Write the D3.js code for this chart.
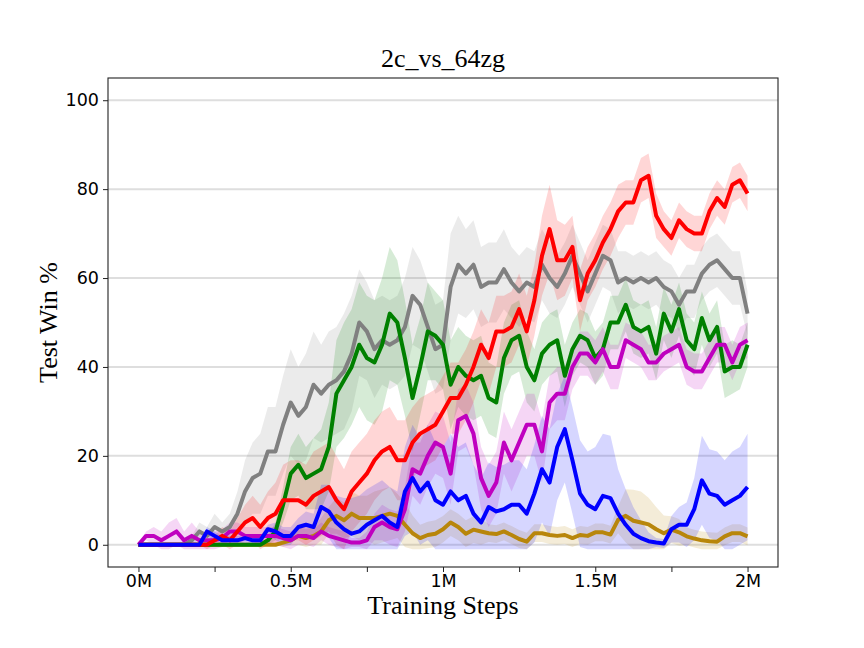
<!DOCTYPE html>
<html>
<head>
<meta charset="utf-8">
<script src="https://cdn.jsdelivr.net/npm/d3@7/dist/d3.min.js"></script>
<style>
html,body{margin:0;padding:0;background:#fff;}
</style>
</head>
<body>
<svg id="chart" width="864" height="648"></svg>
<script>
// ---- data ----
const title = "2c_vs_64zg";
const xLabel = "Training Steps";
const yLabel = "Test Win %";
const xTickValues = [0, 0.25, 0.5, 0.75, 1, 1.25, 1.5, 1.75, 2];
const xTickLabels = ["0M", "", "0.5M", "", "1M", "", "1.5M", "", "2M"];
const yTickValues = [0, 20, 40, 60, 80, 100];
const steps = d3.range(81).map(i => i * 0.025); // millions of steps

const grayMean = [0,0,0,0,0,0,0,1,3,2, 4,3,4,7,12,15,16,21,21,27, 32,29,31,36,34,36,37,39,43,50, 48,44,46,45,46,49,56,54,49,44, 45,58,63,61,63,58,59,59,62,59, 57,59,58,63,60,58,61,65,61,57, 61,65,64,59,60,59,60,59,60,58, 57,54,57,57,61,63,64,62,60,60,52];
const graySpread = [0,0,0,0,0,0,0,1,2,2, 3,2,3,5,7,8,9,10,10,11, 12,11,12,12,11,12,12,13,13,12, 11,11,10,10,10,11,11,10,10,10, 10,12,11,10,10,9,9,9,9,8, 8,8,8,8,8,7,7,7,7,7, 7,7,7,7,6,6,6,6,6,6, 6,6,6,6,6,6,6,6,6,6,5];

const redMean = [0,0,0,0,0,0,0,0,0,0, 1,2,1,3,5,6,4,6,7,10, 10,10,9,11,12,13,10,8,12,14, 16,19,21,22,19,19,23,25,26,27, 30,33,33,36,40,45,42,48,48,49, 53,48,55,65,71,64,64,67,55,61, 64,68,71,75,77,77,82,83,74,71, 69,73,71,70,70,75,78,76,81,82,79];
const redSpread = [0,0,0,0,0,0,0,0,0,1, 1,2,2,3,4,5,5,6,7,8, 9,9,9,10,10,10,10,9,9,9, 9,9,9,9,9,9,8,8,8,8, 8,8,8,8,8,8,8,8,8,8, 8,8,8,9,10,9,8,7,7,6, 6,6,6,6,5,5,5,5,5,4, 4,4,4,4,4,4,4,4,4,4,4];

const greenMean = [0,0,0,0,0,0,0,0,0,0, 0,0,0,0,0,0,0,1,3,9, 16,18,15,16,17,22,34,37,40,45, 42,41,45,52,50,42,33,40,48,47, 45,36,40,38,37,38,33,32,42,46, 47,40,37,43,45,46,38,44,47,46, 42,44,50,50,54,49,48,49,43,52, 48,53,46,44,51,46,49,39,40,40,45];
const greenSpread = [0,0,0,0,0,0,0,0,0,0, 0,0,0,0,0,0,0,1,2,4, 6,7,7,8,9,10,12,13,13,14, 14,14,15,15,14,13,12,11,11,10, 10,10,9,9,9,9,8,8,8,8, 8,8,7,7,7,7,7,6,6,6, 6,6,6,6,6,6,6,6,6,6, 6,6,6,6,6,6,6,6,6,5,5];

const magentaMean = [0,2,2,1,2,3,1,2,1,1, 1,1.5,3,3,2,2,2,2,2,1.5, 1,2,2,1.5,3,2,1.5,1,0.5,0.5, 1,4,5,4,3.5,8,17,16,20,23, 22,16,28,29,25,15,11,14,23,19, 23,27,27,21,32,34,34,40,43,43, 41,44,40,40,46,45,44,41,41,43, 44,45,40,39,39,42,45,45,41,45,46];
const magentaSpread = [0,1,2,2,3,3,2,3,2,2, 2,2,2,2,2,2,2,2,2,2, 2,2,2,2,2,2,2,2,1,1, 2,3,4,4,4,5,6,7,7,7, 7,7,7,7,7,7,7,7,7,7, 7,7,7,7,6,6,6,5,5,5, 5,5,5,5,4,4,4,4,4,4, 4,4,4,4,4,4,4,4,4,4,4];

const blueMean = [0,0,0,0,0,0,0,0,0,3, 2,1,1,1,1.5,1,1,3.5,3,2, 2,4,4.5,4,8.5,7.5,5,3.5,2.5,3, 4.5,5.5,6.5,5,4,12,15,12,14,10, 9,12,10,11,7,5,8.5,7.5,8,9, 9,7,11.5,17,14,22,26,19,11.5,9, 8,11,10.5,7,4.5,2.5,1.5,0.8,0.5,0.3, 3.5,4.5,4.5,8,14.5,11.5,11,9,10,11,13];
const blueSpread = [0,0,0,0,0,0,0,0,0,1, 1,1,1,1,1,1,1,1,2,2, 2,2,3,3,5,6,6,7,8,8, 8,8,8,8,8,10,12,12,13,13, 13,13,12,12,11,10,10,10,10,10, 10,10,11,12,12,12,12,12,12,12, 14,14,14,10,8,6,4,2,1,1, 3,4,5,7,10,10,10,10,11,11,12];

const goldMean = [0,0,0,0,0,0,0,0,0,0, 0,0,0,0,0,0,0,0,0,0.5, 1,2,1.5,2,3,5.5,6.5,5.5,7,6, 6,6,6.5,7,6.5,4.5,2.6,1.5,2.2,2.5, 3.5,5,4,2.5,3.4,3,2.6,2.4,3,2.2, 1.3,0.7,2.6,2.6,2.2,2,2.2,1.5,2.2,2, 2.8,2.8,2.3,5.6,6.5,5.4,5,4.6,3.5,2.6, 3.4,2.8,1.9,1.4,1,0.8,0.7,1.9,2.6,2.6,1.9];
const goldSpread = [0,0,0,0,0,0,0,0,0,0, 0,0,0,0,0,0,0,0,0,1, 1,2,2,2,3,3,4,4,5,5, 5,6,6,6,5,5,4,3,3,3, 3,3,3,3,3,3,2,2,2,2, 2,2,2,2,2,2,2,2,2,2, 2,2,2,3,6,7,7,6,5,4, 3,3,2,2,2,2,2,2,2,2,2];

const seriesColors = {
  gold: "#b8860b", gray: "#808080", green: "#008000",
  magenta: "#bf00bf", red: "#ff0000", blue: "#0000ff"
};

// ---- drawing ----
const svg = d3.select("#chart");
const margin = {left: 108, right: 864 - 778, top: 78, bottom: 648 - 567};
const W = 864, H = 648;

const x = d3.scaleLinear().domain([-0.1, 2.1]).range([margin.left, W - margin.right]);
const y = d3.scaleLinear().domain([-5, 105]).range([H - margin.bottom, margin.top]);

// gridlines
svg.append("g").selectAll("line").data(yTickValues).join("line")
  .attr("x1", x.range()[0]).attr("x2", x.range()[1])
  .attr("y1", d => y(d)).attr("y2", d => y(d))
  .attr("stroke", "#dedede").attr("stroke-width", 2);

const series = [
  {name: "gold", mean: goldMean, spread: goldSpread},
  {name: "gray", mean: grayMean, spread: graySpread},
  {name: "green", mean: greenMean, spread: greenSpread},
  {name: "magenta", mean: magentaMean, spread: magentaSpread},
  {name: "red", mean: redMean, spread: redSpread},
  {name: "blue", mean: blueMean, spread: blueSpread}
];

svg.append("clipPath").attr("id", "plotclip").append("rect")
  .attr("x", x.range()[0]).attr("y", y.range()[1])
  .attr("width", x.range()[1] - x.range()[0]).attr("height", y.range()[0] - y.range()[1]);

const plot = svg.append("g").attr("clip-path", "url(#plotclip)");

const area = d3.area()
  .x((d, i) => x(steps[i]))
  .y0(d => y(Math.max(-1, d.m - d.s)))
  .y1(d => y(d.m + d.s));
const line = d3.line().x((d, i) => x(steps[i])).y(d => y(d));

series.forEach(s => {
  const pts = s.mean.map((m, i) => ({m: m, s: s.spread[i]}));
  plot.append("path").datum(pts).attr("d", area)
    .attr("fill", seriesColors[s.name]).attr("fill-opacity", 0.16).attr("stroke", "none");
});
series.forEach(s => {
  plot.append("path").datum(s.mean).attr("d", line)
    .attr("fill", "none").attr("stroke", seriesColors[s.name])
    .attr("stroke-width", 4).attr("stroke-linejoin", "round").attr("stroke-linecap", "butt");
});

// axes
const xAxis = d3.axisBottom(x).tickValues(xTickValues)
  .tickFormat((d, i) => xTickLabels[i]).tickSize(5).tickSizeOuter(0).tickPadding(3);
const gx = svg.append("g").attr("transform", `translate(0,${y.range()[0]})`).call(xAxis);
gx.select(".domain").remove();
gx.selectAll("text").attr("font-family", "DejaVu Sans").attr("font-size", 17.5).attr("fill", "#000");
gx.selectAll("line").attr("stroke", "#222");

const yAxis = d3.axisLeft(y).tickValues(yTickValues).tickSize(5).tickSizeOuter(0).tickPadding(4);
const gy = svg.append("g").attr("transform", `translate(${x.range()[0]},0)`).call(yAxis);
gy.select(".domain").remove();
gy.selectAll("text").attr("font-family", "DejaVu Sans").attr("font-size", 17.5).attr("fill", "#000");
gy.selectAll("line").attr("stroke", "#222");

// frame
svg.append("rect")
  .attr("x", x.range()[0]).attr("y", y.range()[1])
  .attr("width", x.range()[1] - x.range()[0]).attr("height", y.range()[0] - y.range()[1])
  .attr("fill", "none").attr("stroke", "#222").attr("stroke-width", 1.1);

// labels
const cx = (x.range()[0] + x.range()[1]) / 2;
svg.append("text").attr("x", cx).attr("y", 67).attr("text-anchor", "middle")
  .attr("font-family", "Liberation Serif").attr("font-size", 26).text(title);
svg.append("text").attr("x", cx).attr("y", 614).attr("text-anchor", "middle")
  .attr("font-family", "Liberation Serif").attr("font-size", 26).text(xLabel);
svg.append("text").attr("transform", `translate(57,${(y.range()[0] + y.range()[1]) / 2}) rotate(-90)`)
  .attr("text-anchor", "middle")
  .attr("font-family", "Liberation Serif").attr("font-size", 26).text(yLabel);
</script>
</body>
</html>
